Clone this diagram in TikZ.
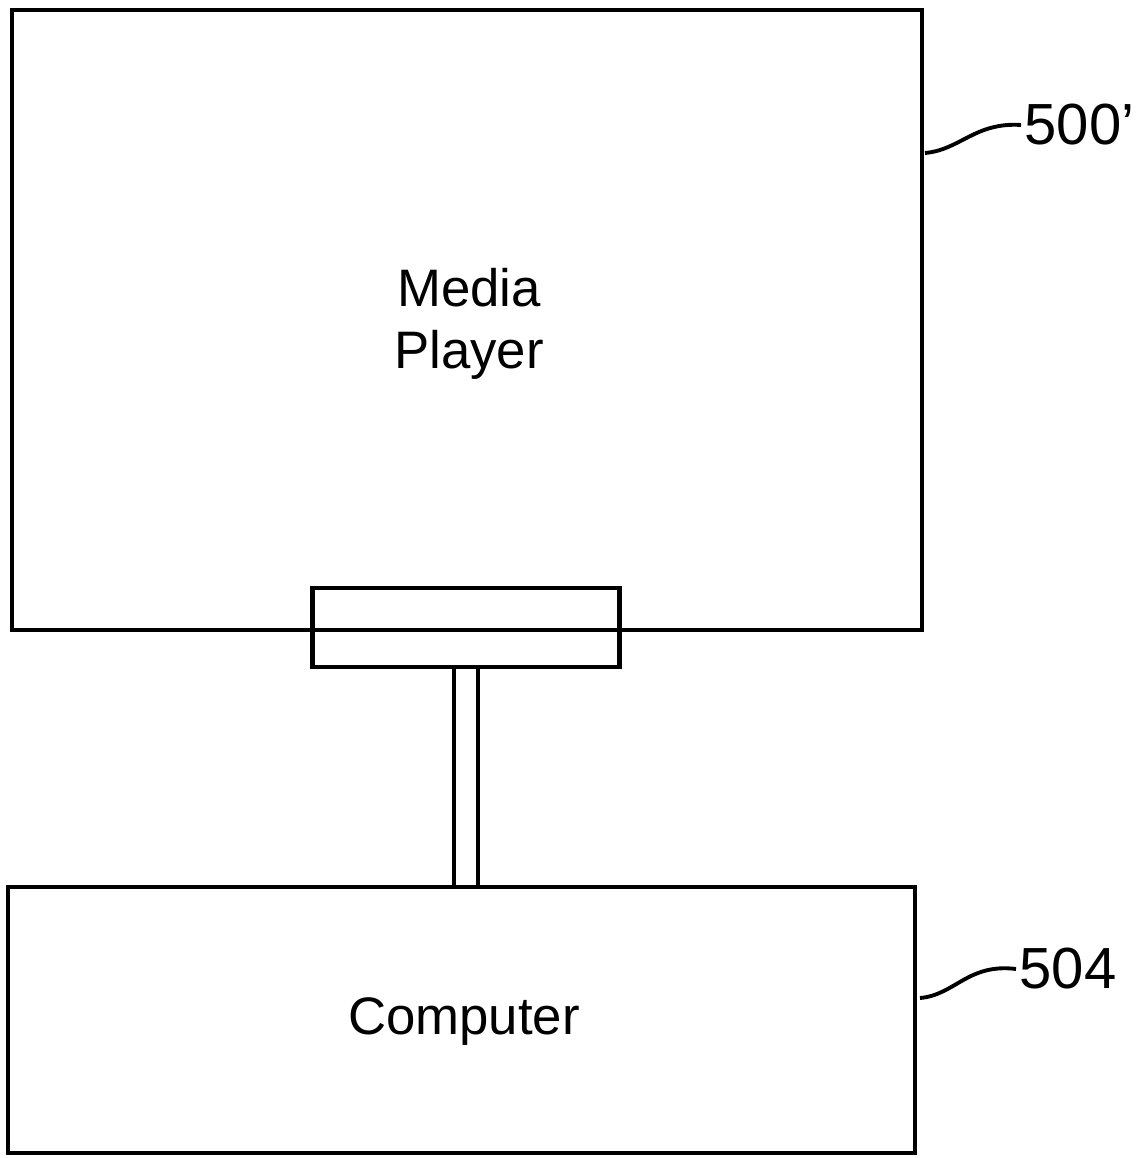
\documentclass[tikz,border=0pt]{standalone}
\usepackage{fontspec}
\setmainfont{Liberation Sans}
\begin{document}
\begin{tikzpicture}[x=0.01cm,y=-0.01cm,
  blk/.style={draw=black,line width=1.2pt,rectangle,inner sep=0pt},
  boxtext/.style={font=\fontsize{15}{17.6}\selectfont,align=center},
  reflabel/.style={font=\fontsize{16.5}{19}\selectfont,inner sep=0pt,anchor=west},
  leader/.style={line width=1.1pt}]
\useasboundingbox (0,0) rectangle (1139,1158);
\node[blk,minimum width=9.10cm,minimum height=6.20cm] (media) at (467,320) {};
\node[boxtext] (mediatxt) at (469,324) {Media\\Player};
\node[blk,minimum width=3.07cm,minimum height=0.79cm] (conn) at (466,627.5) {};
\node[blk,minimum width=9.07cm,minimum height=2.66cm] (comp) at (461.5,1020) {};
\node[boxtext] (comptxt) at (464,1022) {Computer};
\draw[line width=1.2pt] ([xshift=-0.12cm]conn.south) -- ([xshift=-0.12cm]conn.south |- comp.north);
\draw[line width=1.2pt] ([xshift=0.12cm]conn.south) -- ([xshift=0.12cm]conn.south |- comp.north);
\node[reflabel] (l500) at (1024,125) {500\char"27};
\node[reflabel] (l504) at (1019,969) {504};
\coordinate (m500) at (925,153);
\coordinate (m504) at (920,998);
\draw[leader] (m500) .. controls (960,150) and (975,122) .. ([xshift=-0.03cm]l500.west);
\draw[leader] (m504) .. controls (955,995) and (968,963) .. ([xshift=-0.03cm]l504.west);
\end{tikzpicture}
\end{document}
